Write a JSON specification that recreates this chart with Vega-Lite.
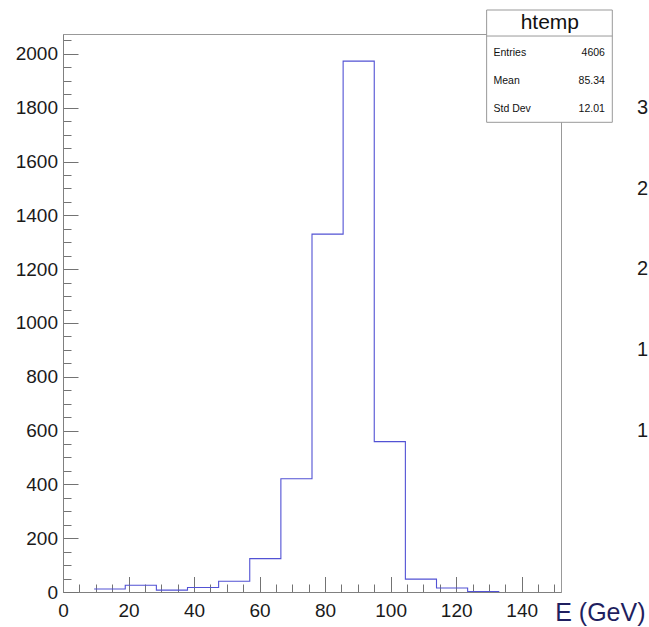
{
  "$schema": "https://vega.github.io/schema/vega-lite/v6.json",
  "width": 498,
  "height": 558,
  "padding": {"left": 63, "top": 34, "right": 88, "bottom": 35},
  "autosize": {"type": "none"},
  "background": "white",
  "config": {
    "view": {"stroke": "#999999", "strokeWidth": 1},
    "font": "Liberation Sans",
    "axis": {
      "grid": false,
      "zindex": 1,
      "domainColor": "#808080",
      "tickColor": "#737373",
      "tickWidth": 1,
      "labelFont": "Liberation Sans",
      "labelFontSize": 19,
      "labelColor": "#1a1a1a",
      "labelOverlap": false,
      "labelFlush": false
    }
  },
  "datasets": {
    "bins": [
      {"E": 9.5, "n": 11},
      {"E": 19, "n": 25},
      {"E": 28.5, "n": 7},
      {"E": 38, "n": 17},
      {"E": 47.5, "n": 40},
      {"E": 57, "n": 124},
      {"E": 66.5, "n": 421},
      {"E": 76, "n": 1330},
      {"E": 85.5, "n": 1973},
      {"E": 95, "n": 559},
      {"E": 104.5, "n": 48},
      {"E": 114, "n": 15},
      {"E": 123.5, "n": 2},
      {"E": 133, "n": 0}
    ],
    "stats": [
      {"stat": "Entries", "value": "4606", "row": 1},
      {"stat": "Mean", "value": "85.34", "row": 2},
      {"stat": "Std Dev", "value": "12.01", "row": 3}
    ],
    "side": [
      {"v": 3, "label": "3"},
      {"v": 2.5, "label": "2.5"},
      {"v": 2, "label": "2"},
      {"v": 1.5, "label": "1.5"},
      {"v": 1, "label": "1"}
    ]
  },
  "layer": [
    {
      "layer": [
        {
          "data": {"name": "bins"},
          "mark": {"type": "line", "interpolate": "step-after", "strokeOpacity": 0},
          "encoding": {
            "x": {
              "field": "E",
              "type": "quantitative",
              "scale": {"domain": [0, 152], "nice": false, "zero": false},
              "axis": {
                "orient": "bottom",
                "values": [5,10,15,25,30,35,45,50,55,65,70,75,85,90,95,105,110,115,125,130,135,145,150],
                "tickSize": -8,
                "labels": false,
                "domain": false,
                "title": null
              }
            },
            "y": {
              "field": "n",
              "type": "quantitative",
              "scale": {"domain": [0, 2074], "nice": false},
              "axis": {
                "orient": "left",
                "values": [50,100,150,250,300,350,450,500,550,650,700,750,850,900,950,1050,1100,1150,1250,1300,1350,1450,1500,1550,1650,1700,1750,1850,1900,1950,2050],
                "tickSize": -8,
                "labels": false,
                "domain": false,
                "title": null
              }
            }
          }
        },
        {
          "data": {"name": "bins"},
          "mark": {"type": "line", "interpolate": "step-after", "color": "#5252d4", "strokeWidth": 1.1},
          "encoding": {
            "x": {
              "field": "E",
              "type": "quantitative",
              "scale": {"domain": [0, 152], "nice": false, "zero": false},
              "axis": {
                "orient": "bottom",
                "values": [0,20,40,60,80,100,120,140],
                "tickSize": -15.5,
                "labelPadding": 25,
                "title": "E (GeV)",
                "titleFont": "Liberation Sans",
                "titleFontSize": 25,
                "titleFontWeight": "normal",
                "titleColor": "#1f1f5f",
                "titleX": 582,
                "titleY": 28,
                "titleAlign": "right",
                "titleBaseline": "alphabetic"
              }
            },
            "y": {
              "field": "n",
              "type": "quantitative",
              "scale": {"domain": [0, 2074], "nice": false},
              "axis": {
                "orient": "left",
                "values": [0,200,400,600,800,1000,1200,1400,1600,1800,2000],
                "format": "d",
                "tickSize": -15,
                "labelPadding": 20.5,
                "title": null
              }
            }
          }
        },
        {
          "data": {"values": [{}]},
          "mark": {"type": "rect", "fill": "white", "stroke": "#999999", "strokeWidth": 1},
          "encoding": {
            "x": {"datum": 129.3, "axis": null},
            "x2": {"datum": 167.66},
            "y": {"datum": 2163.2, "axis": null},
            "y2": {"datum": 1745.8}
          }
        },
        {
          "data": {"values": [{}]},
          "mark": {"type": "rule", "stroke": "#999999", "strokeWidth": 1},
          "encoding": {
            "x": {"datum": 129.3, "axis": null},
            "x2": {"datum": 167.66},
            "y": {"datum": 2066.5, "axis": null}
          }
        },
        {
          "data": {"values": [{"name": "htemp"}]},
          "mark": {"type": "text", "fontSize": 21, "align": "center", "baseline": "alphabetic", "color": "#111111"},
          "encoding": {
            "x": {"datum": 148.6, "axis": null},
            "y": {"datum": 2093, "axis": null},
            "text": {"field": "name"}
          }
        },
        {
          "data": {"name": "stats"},
          "transform": [{"filter": "datum.row === 1"}],
          "layer": [
            {
              "mark": {"type": "text", "fontSize": 10.5, "align": "left", "baseline": "alphabetic", "color": "#111111"},
              "encoding": {"x": {"datum": 131.4, "axis": null}, "y": {"datum": 1990.7, "axis": null}, "text": {"field": "stat"}}
            },
            {
              "mark": {"type": "text", "fontSize": 10.5, "align": "right", "baseline": "alphabetic", "color": "#111111"},
              "encoding": {"x": {"datum": 165.4, "axis": null}, "y": {"datum": 1990.7, "axis": null}, "text": {"field": "value"}}
            }
          ]
        },
        {
          "data": {"name": "stats"},
          "transform": [{"filter": "datum.row === 2"}],
          "layer": [
            {
              "mark": {"type": "text", "fontSize": 10.5, "align": "left", "baseline": "alphabetic", "color": "#111111"},
              "encoding": {"x": {"datum": 131.4, "axis": null}, "y": {"datum": 1886.6, "axis": null}, "text": {"field": "stat"}}
            },
            {
              "mark": {"type": "text", "fontSize": 10.5, "align": "right", "baseline": "alphabetic", "color": "#111111"},
              "encoding": {"x": {"datum": 165.4, "axis": null}, "y": {"datum": 1886.6, "axis": null}, "text": {"field": "value"}}
            }
          ]
        },
        {
          "data": {"name": "stats"},
          "transform": [{"filter": "datum.row === 3"}],
          "layer": [
            {
              "mark": {"type": "text", "fontSize": 10.5, "align": "left", "baseline": "alphabetic", "color": "#111111"},
              "encoding": {"x": {"datum": 131.4, "axis": null}, "y": {"datum": 1784.4, "axis": null}, "text": {"field": "stat"}}
            },
            {
              "mark": {"type": "text", "fontSize": 10.5, "align": "right", "baseline": "alphabetic", "color": "#111111"},
              "encoding": {"x": {"datum": 165.4, "axis": null}, "y": {"datum": 1784.4, "axis": null}, "text": {"field": "value"}}
            }
          ]
        }
      ],
      "resolve": {"axis": {"x": "independent", "y": "independent"}}
    },
    {
      "data": {"name": "side"},
      "mark": {"type": "text", "fontSize": 20, "align": "left", "baseline": "middle", "color": "#1a1a1a"},
      "encoding": {
        "x": {"datum": 175.2, "axis": null},
        "y": {
          "field": "v",
          "type": "quantitative",
          "scale": {"domain": [0, 3.4587], "nice": false},
          "axis": null
        },
        "text": {"field": "label"}
      }
    }
  ],
  "resolve": {"scale": {"y": "independent"}}
}
